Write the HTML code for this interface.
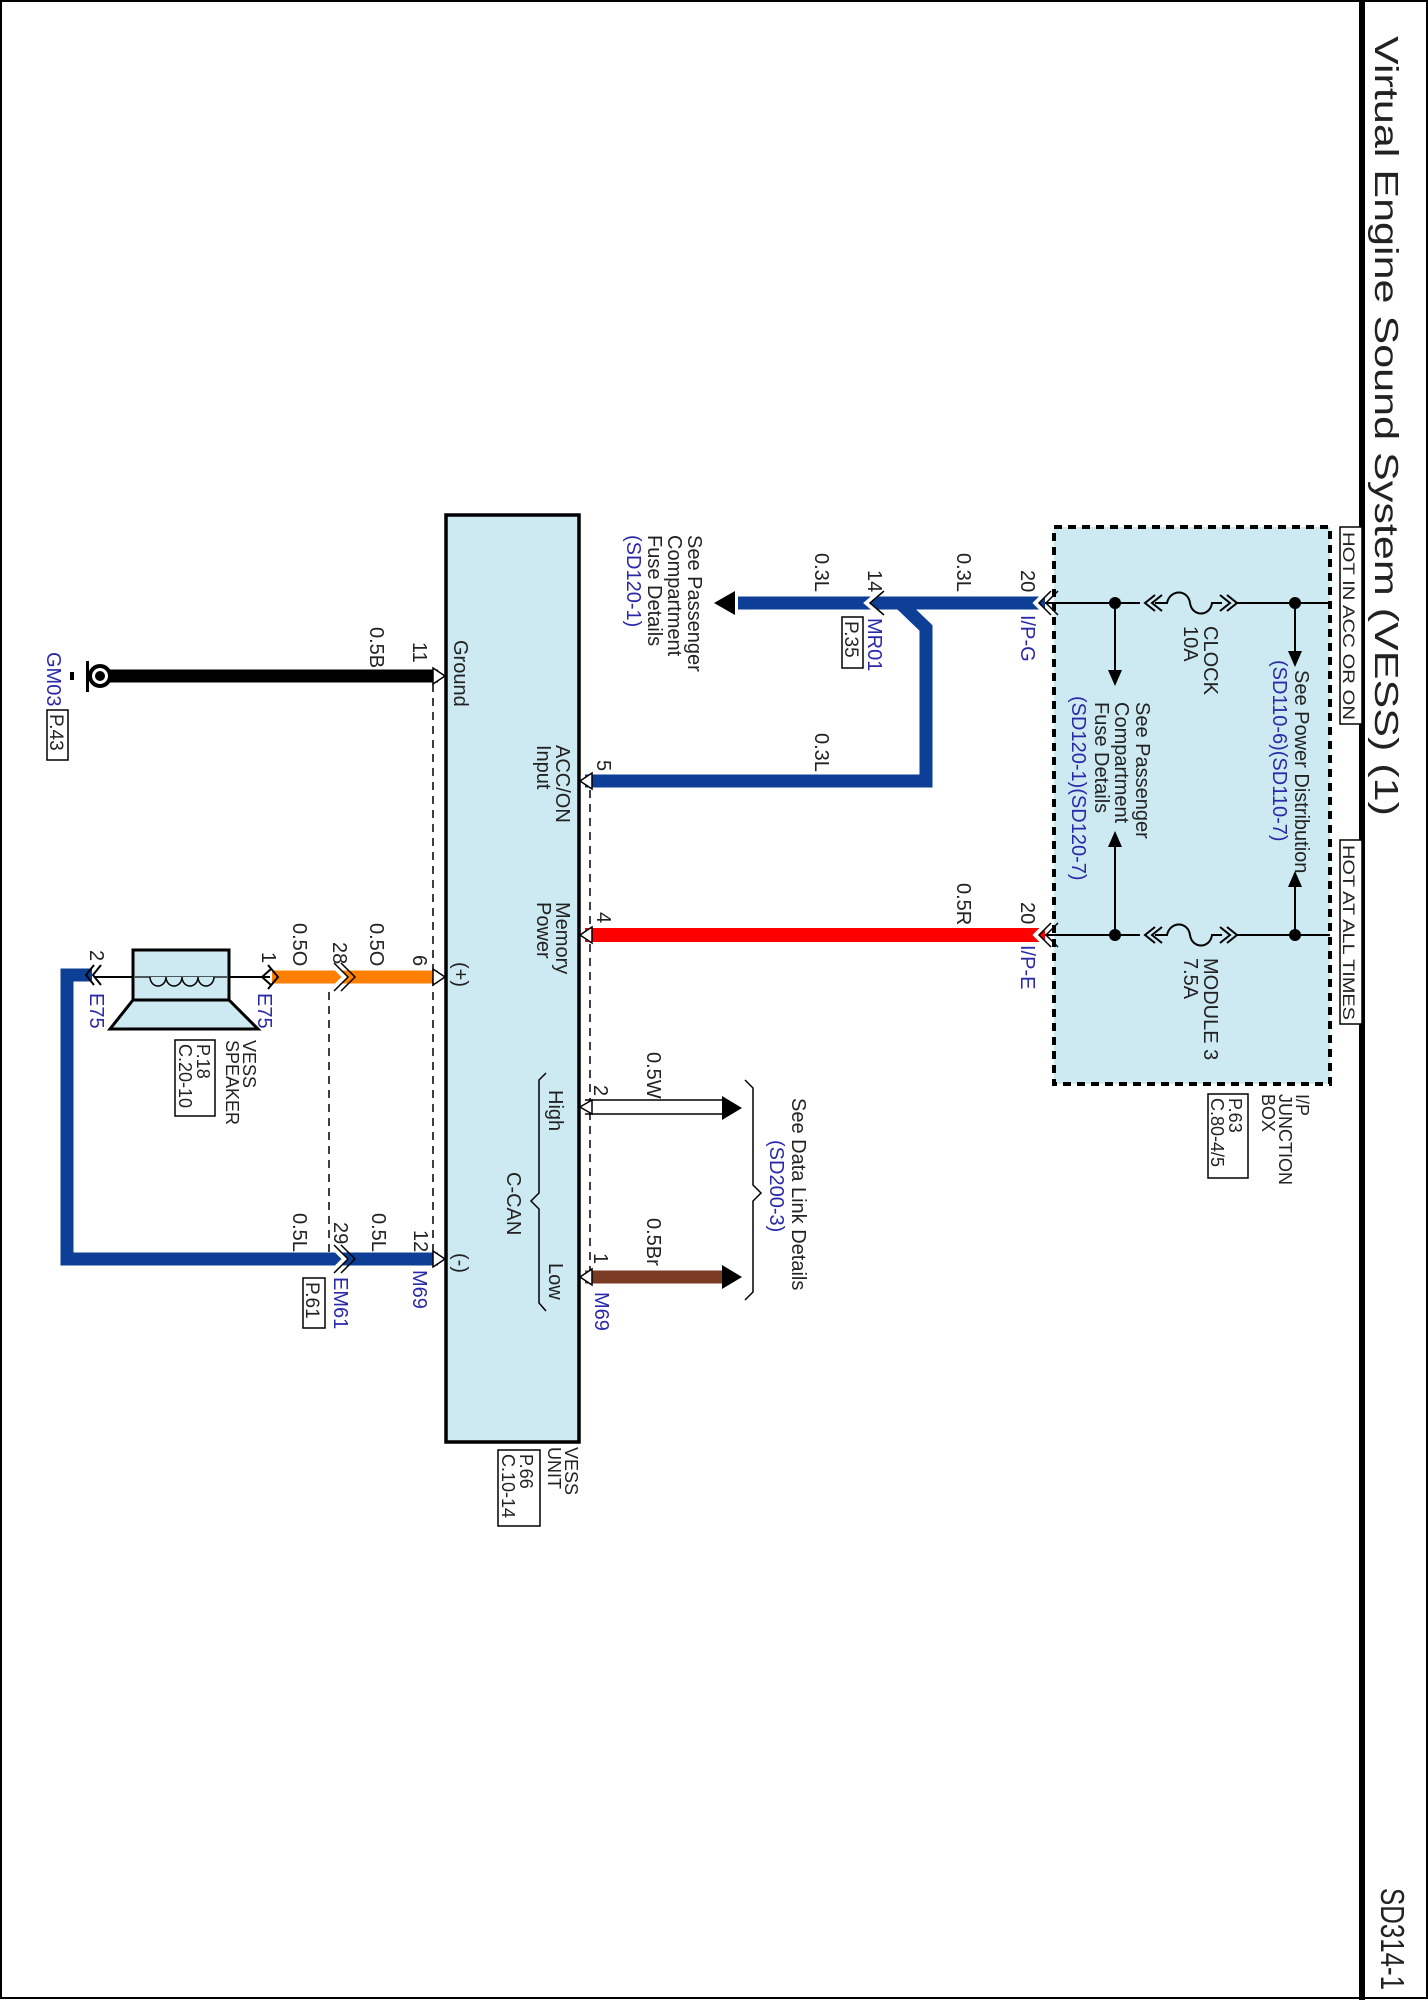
<!DOCTYPE html>
<html><head><meta charset="utf-8"><style>
html,body{margin:0;padding:0;background:#fff}
svg{display:block}
text{font-family:"Liberation Sans",sans-serif;fill:#222}
.b{fill:#2a2aa8}
</style></head><body>
<svg width="1428" height="2000" viewBox="0 0 1428 2000" xmlns="http://www.w3.org/2000/svg">
<rect x="1" y="1" width="1426" height="1997" fill="#fff" stroke="#000" stroke-width="2"/>
<rect x="1359" y="0" width="6" height="2000" fill="#000"/>
<text transform="translate(1375,36) rotate(90)" font-size="33" textLength="780" lengthAdjust="spacingAndGlyphs">Virtual Engine Sound System (VESS) (1)</text>
<text transform="translate(1381,1888) rotate(90)" font-size="33" textLength="102" lengthAdjust="spacingAndGlyphs">SD314-1</text>

<!-- Junction box -->
<rect x="1054" y="527" width="276" height="557" fill="#cde9f1" stroke="#000" stroke-width="4" stroke-dasharray="8,6"/>
<rect x="1340" y="527" width="22" height="197" fill="#fff" stroke="#000" stroke-width="1.5"/>
<text transform="translate(1343,532) rotate(90)" font-size="17" textLength="188" lengthAdjust="spacingAndGlyphs">HOT IN ACC OR ON</text>
<rect x="1340" y="840" width="22" height="184" fill="#fff" stroke="#000" stroke-width="1.5"/>
<text transform="translate(1343,845) rotate(90)" font-size="17" textLength="175" lengthAdjust="spacingAndGlyphs">HOT AT ALL TIMES</text>
<g stroke="#000" stroke-width="2" fill="none">
<line x1="1045" y1="603" x2="1140" y2="603"/><line x1="1237" y1="603" x2="1330" y2="603"/>
<line x1="1045" y1="935" x2="1140" y2="935"/><line x1="1237" y1="935" x2="1330" y2="935"/>
<path d="M1155,595 L1145,603 L1155,611 M1162,595 L1152,603 L1162,611"/>
<path d="M1220,595 L1230,603 L1220,611 M1227,595 L1237,603 L1227,611"/>
<path d="M1155,603 L1167,603 C1170,589 1188,589 1190,603 C1192,617 1210,617 1212,603 L1222,603"/>
<path d="M1155,927 L1145,935 L1155,943 M1162,927 L1152,935 L1162,943"/>
<path d="M1220,927 L1230,935 L1220,943 M1227,927 L1237,935 L1227,943"/>
<path d="M1155,935 L1167,935 C1170,921 1188,921 1190,935 C1192,949 1210,949 1212,935 L1222,935"/>
<line x1="1115" y1="603" x2="1115" y2="672"/><line x1="1115" y1="935" x2="1115" y2="846"/>
<line x1="1295" y1="603" x2="1295" y2="652"/><line x1="1295" y1="935" x2="1295" y2="886"/>
</g>
<g fill="#000">
<circle cx="1115" cy="603" r="6"/><circle cx="1295" cy="603" r="6"/>
<circle cx="1115" cy="935" r="6"/><circle cx="1295" cy="935" r="6"/>
<polygon points="1108,670 1122,670 1115,686"/><polygon points="1108,847 1122,847 1115,831"/>
<polygon points="1288,651 1302,651 1295,667"/><polygon points="1288,887 1302,887 1295,871"/>
</g>
<text transform="translate(1204,626) rotate(90)" font-size="20">CLOCK</text>
<text transform="translate(1184,626) rotate(90)" font-size="20">10A</text>
<text transform="translate(1204,958) rotate(90)" font-size="20">MODULE 3</text>
<text transform="translate(1184,958) rotate(90)" font-size="20">7.5A</text>
<text transform="translate(1295,670) rotate(90)" font-size="20">See Power Distribution</text>
<text class="b" transform="translate(1273,660) rotate(90)" font-size="20">(SD110-6)(SD110-7)</text>
<text transform="translate(1136,702) rotate(90)" font-size="20">See Passenger</text>
<text transform="translate(1115,702) rotate(90)" font-size="20">Compartment</text>
<text transform="translate(1095,702) rotate(90)" font-size="20">Fuse Details</text>
<text class="b" transform="translate(1072,696) rotate(90)" font-size="20">(SD120-1)(SD120-7)</text>
<text transform="translate(1021,570) rotate(90)" font-size="20">20</text>
<text class="b" transform="translate(1021,615) rotate(90)" font-size="20">I/P-G</text>
<text transform="translate(1021,902) rotate(90)" font-size="20">20</text>
<text class="b" transform="translate(1021,945) rotate(90)" font-size="20">I/P-E</text>
<text transform="translate(1296,1094) rotate(90)" font-size="18">I/P</text>
<text transform="translate(1279,1094) rotate(90)" font-size="18">JUNCTION</text>
<text transform="translate(1262,1094) rotate(90)" font-size="18">BOX</text>
<rect x="1208" y="1094" width="40" height="84" fill="#fff" stroke="#000" stroke-width="1.5"/>
<text transform="translate(1229,1098) rotate(90)" font-size="18">P.63</text>
<text transform="translate(1211,1098) rotate(90)" font-size="18">C.80-4/5</text>

<!-- Wires -->
<g fill="none" stroke-linejoin="miter">
<line x1="738" y1="603" x2="1045" y2="603" stroke="#0d3f96" stroke-width="13"/>
<path d="M585,781 L926,781 L926,628 L900,603" stroke="#0d3f96" stroke-width="13"/>
<line x1="585" y1="935" x2="1045" y2="935" stroke="#ff0000" stroke-width="14"/>
<line x1="100" y1="676" x2="438" y2="676" stroke="#000" stroke-width="13"/>
<line x1="272" y1="977" x2="438" y2="977" stroke="#ff7f00" stroke-width="13"/>
<path d="M438,1259 L67,1259 L67,975 L92,975" stroke="#0d3f96" stroke-width="13"/>
<line x1="585" y1="1277" x2="722" y2="1277" stroke="#7b3a24" stroke-width="13"/>
<line x1="585" y1="1100" x2="722" y2="1100" stroke="#000" stroke-width="1.5"/>
<line x1="585" y1="1114" x2="722" y2="1114" stroke="#000" stroke-width="1.5"/>
</g>
<g fill="#000">
<polygon points="735,591 735,615 714,603"/>
<polygon points="722,1096 722,1120 742,1108"/>
<polygon points="722,1265 722,1289 742,1277"/>
</g>
<!-- inline connectors -->
<g fill="none" stroke-width="5" stroke="#fff">
<path d="M881,591 L867,603 L881,615"/>
<path d="M331,963 L345,977 L331,991"/>
<path d="M331,1245 L345,1259 L331,1273"/>
<path d="M1048,591 L1036,603 L1048,615"/>
<path d="M1048,923 L1036,935 L1048,947"/>
</g>
<g fill="none" stroke-width="1.5" stroke="#000">
<path d="M884,591 L870,603 L884,615"/>
<path d="M334,963 L348,977 L334,991 M341,963 L355,977 L341,991"/>
<path d="M334,1245 L348,1259 L334,1273 M341,1245 L355,1259 L341,1273"/>
<path d="M1051,591 L1039,603 L1051,615 M1058,591 L1046,603 L1058,615"/>
<path d="M1051,923 L1039,935 L1051,947 M1058,923 L1046,935 L1058,947"/>
</g>

<!-- dashed lines -->
<g stroke="#000" stroke-width="1.5" stroke-dasharray="8,6" fill="none">
<line x1="433" y1="684" x2="433" y2="1252"/>
<line x1="590" y1="790" x2="590" y2="1272"/>
<line x1="329" y1="992" x2="329" y2="1252"/>
</g>

<!-- VESS Unit -->
<rect x="446" y="515" width="133" height="927" fill="#cde9f1" stroke="#000" stroke-width="3.5"/>
<g fill="#fff" stroke="#000" stroke-width="1.5">
<polygon points="592,773 580,781 592,789"/>
<polygon points="592,927 580,935 592,943"/>
<polygon points="592,1100 580,1107 592,1114"/>
<polygon points="592,1269 580,1277 592,1285"/>
<polygon points="433,668 445,676 433,684"/>
<polygon points="433,969 445,977 433,985"/>
<polygon points="433,1251 445,1259 433,1267"/>
</g>
<text transform="translate(556,745) rotate(90)" font-size="20">ACC/ON</text>
<text transform="translate(537,745) rotate(90)" font-size="20">Input</text>
<text transform="translate(556,902) rotate(90)" font-size="20">Memory</text>
<text transform="translate(537,902) rotate(90)" font-size="20">Power</text>
<text transform="translate(454,640) rotate(90)" font-size="20">Ground</text>
<text transform="translate(454,962) rotate(90)" font-size="20">(+)</text>
<text transform="translate(454,1253) rotate(90)" font-size="20">(-)</text>
<text transform="translate(549,1090) rotate(90)" font-size="20">High</text>
<text transform="translate(549,1263) rotate(90)" font-size="20">Low</text>
<text transform="translate(507,1172) rotate(90)" font-size="20">C-CAN</text>
<path d="M546,1073 L539,1080 L539,1193 L531,1201 L539,1209 L539,1303 L546,1311" fill="none" stroke="#000" stroke-width="1.5"/>
<text transform="translate(565,1447) rotate(90)" font-size="18">VESS</text>
<text transform="translate(548,1447) rotate(90)" font-size="18">UNIT</text>
<rect x="498" y="1450" width="42" height="76" fill="#fff" stroke="#000" stroke-width="1.5"/>
<text transform="translate(520,1454) rotate(90)" font-size="18">P.66</text>
<text transform="translate(502,1454) rotate(90)" font-size="18">C.10-14</text>

<!-- pin numbers & wire labels -->
<text transform="translate(597,760) rotate(90)" font-size="20">5</text>
<text transform="translate(597,912) rotate(90)" font-size="20">4</text>
<text transform="translate(594,1085) rotate(90)" font-size="20">2</text>
<text transform="translate(594,1253) rotate(90)" font-size="20">1</text>
<text class="b" transform="translate(595,1292) rotate(90)" font-size="20">M69</text>
<text transform="translate(815,553) rotate(90)" font-size="20">0.3L</text>
<text transform="translate(957,553) rotate(90)" font-size="20">0.3L</text>
<text transform="translate(815,733) rotate(90)" font-size="20">0.3L</text>
<text transform="translate(957,883) rotate(90)" font-size="20">0.5R</text>
<text transform="translate(647,1052) rotate(90)" font-size="20">0.5W</text>
<text transform="translate(647,1218) rotate(90)" font-size="20">0.5Br</text>
<text transform="translate(868,570) rotate(90)" font-size="20">14</text>
<text class="b" transform="translate(868,618) rotate(90)" font-size="20">MR01</text>
<rect x="842" y="617" width="21" height="51" fill="#fff" stroke="#000" stroke-width="1.5"/>
<text transform="translate(845,621) rotate(90)" font-size="19">P.35</text>
<text transform="translate(688,535) rotate(90)" font-size="20">See Passenger</text>
<text transform="translate(668,535) rotate(90)" font-size="20">Compartment</text>
<text transform="translate(648,535) rotate(90)" font-size="20">Fuse Details</text>
<text class="b" transform="translate(627,535) rotate(90)" font-size="20">(SD120-1)</text>
<path d="M745,1080 L753,1088 L753,1185 L761,1193 L753,1201 L753,1292 L745,1300" fill="none" stroke="#000" stroke-width="1.5"/>
<text transform="translate(792,1098) rotate(90)" font-size="20">See Data Link Details</text>
<text class="b" transform="translate(770,1140) rotate(90)" font-size="20">(SD200-3)</text>

<!-- ground -->
<text transform="translate(413,642) rotate(90)" font-size="20">11</text>
<text transform="translate(370,627) rotate(90)" font-size="20">0.5B</text>
<circle cx="100" cy="676" r="10" fill="#fff" stroke="#000" stroke-width="4"/>
<circle cx="100" cy="676" r="5" fill="#000"/>
<rect x="86" y="661" width="3" height="31" fill="#000"/>
<rect x="70" y="672" width="4" height="8" fill="#000"/>
<text class="b" transform="translate(47,652) rotate(90)" font-size="20">GM03</text>
<rect x="47" y="710" width="21" height="50" fill="#fff" stroke="#000" stroke-width="1.5"/>
<text transform="translate(50,714) rotate(90)" font-size="19">P.43</text>

<!-- orange / speaker -->
<text transform="translate(413,955) rotate(90)" font-size="20">6</text>
<text transform="translate(333,942) rotate(90)" font-size="20">28</text>
<text transform="translate(370,923) rotate(90)" font-size="20">0.5O</text>
<text transform="translate(293,923) rotate(90)" font-size="20">0.5O</text>
<line x1="95" y1="977" x2="270" y2="977" stroke="#000" stroke-width="2"/>
<path d="M271,969 L262,977 L271,985" fill="none" stroke="#000" stroke-width="2"/>
<path d="M268,965 L278,977 L268,989" fill="none" stroke="#000" stroke-width="2"/>
<path d="M94,965 L86,975 L94,985 M101,965 L93,975 L101,985" fill="none" stroke="#000" stroke-width="2"/>
<rect x="133" y="950" width="96" height="50" fill="#cde9f1" stroke="#000" stroke-width="3"/>
<line x1="135" y1="977" x2="227" y2="977" stroke="#000" stroke-width="1.2"/>
<path d="M150,977 a8,9 0 0 0 16,0 a8,9 0 0 0 16,0 a8,9 0 0 0 16,0 a8,9 0 0 0 16,0" fill="#cde9f1" stroke="#000" stroke-width="1.5"/>
<polygon points="133,1000 229,1000 258,1029 110,1029" fill="#cde9f1" stroke="#000" stroke-width="3"/>
<text transform="translate(262,952) rotate(90)" font-size="20">1</text>
<text class="b" transform="translate(258,993) rotate(90)" font-size="20">E75</text>
<text transform="translate(90,950) rotate(90)" font-size="20">2</text>
<text class="b" transform="translate(90,993) rotate(90)" font-size="20">E75</text>
<text transform="translate(243,1040) rotate(90)" font-size="18">VESS</text>
<text transform="translate(226,1040) rotate(90)" font-size="18">SPEAKER</text>
<rect x="175" y="1040" width="40" height="76" fill="#fff" stroke="#000" stroke-width="1.5"/>
<text transform="translate(197,1044) rotate(90)" font-size="18">P.18</text>
<text transform="translate(179,1044) rotate(90)" font-size="18">C.20-10</text>

<!-- bottom blue -->
<text transform="translate(414,1230) rotate(90)" font-size="20">12</text>
<text class="b" transform="translate(413,1270) rotate(90)" font-size="20">M69</text>
<text transform="translate(334,1222) rotate(90)" font-size="20">29</text>
<text class="b" transform="translate(334,1277) rotate(90)" font-size="20">EM61</text>
<text transform="translate(372,1213) rotate(90)" font-size="20">0.5L</text>
<text transform="translate(293,1213) rotate(90)" font-size="20">0.5L</text>
<rect x="303" y="1278" width="22" height="50" fill="#fff" stroke="#000" stroke-width="1.5"/>
<text transform="translate(306,1282) rotate(90)" font-size="19">P.61</text>
</svg>
</body></html>
